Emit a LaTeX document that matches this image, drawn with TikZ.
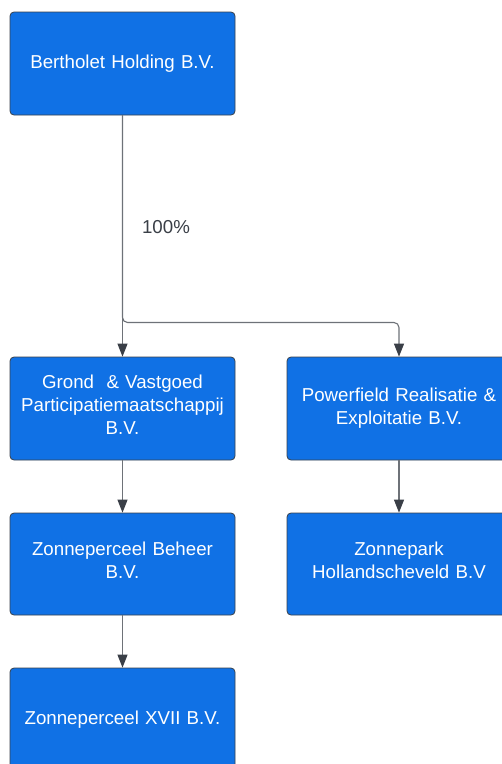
\documentclass[tikz,border=0pt]{standalone}
\usepackage{fontspec}
\setmainfont{Liberation Sans}
\usetikzlibrary{arrows.meta}
\definecolor{boxblue}{HTML}{1071E5}
\definecolor{boxline}{HTML}{3A414A}
\definecolor{edgegray}{HTML}{6E7278}
\definecolor{tipgray}{HTML}{3A3F47}
\definecolor{labelgray}{HTML}{3A3F47}
\newcommand{\lowpad}{\rule[-8pt]{0pt}{8pt}}
\tikzset{
  orgbox/.style={draw=boxline, line width=0.8pt, fill=boxblue, rounded corners=4pt,
    minimum width=225pt, minimum height=103pt, inner sep=0pt, align=center,
    text=white, font=\fontsize{18.7}{23}\selectfont, text width=222pt},
  edge/.style={draw=edgegray, line width=1.1pt,
    -{Triangle[width=10pt,length=13pt,fill=tipgray,color=tipgray]}},
  lbl/.style={text=labelgray, font=\fontsize{18.7}{23}\selectfont, inner sep=0pt}
}
\begin{document}
\begin{tikzpicture}[x=1pt,y=-1pt]
\useasboundingbox (0,0) rectangle (502,764);
\clip (0,0) rectangle (502,764);
\fill[white] (0,0) rectangle (502,764);
\node[orgbox] (top) at (122.5,63.5) {Bertholet Holding B.V.};
\node[orgbox] (gv) at (122.5,408.5) {Grond\ \ \& Vastgoed\\Participatiemaatschappij\\B.V.\lowpad};
\node[orgbox, minimum height=102pt] (zb) at (122.5,564) {Zonneperceel Beheer\\B.V.\lowpad};
\node[orgbox] (z17) at (122.5,719.5) {Zonneperceel XVII B.V.};
\node[orgbox, minimum width=224pt] (pf) at (399,408.5) {Powerfield Realisatie \&\\Exploitatie B.V.};
\node[orgbox, minimum width=224pt, minimum height=102pt] (zp) at (399,564) {Zonnepark\\Hollandscheveld B.V\lowpad};
\coordinate (j) at (122.5,322.5);
\draw[edge] (top.south) -- (gv.north);
\draw[edge, rounded corners=5pt] (top.south) -- (j) -- (pf.north |- j) -- (pf.north);
\draw[edge] (gv.south) -- (zb.north);
\draw[edge] (zb.south) -- (z17.north);
\draw[edge] (pf.south) -- (zp.north);
\node[lbl] (pct) at (166,227) {100\%};
\end{tikzpicture}
\end{document}
